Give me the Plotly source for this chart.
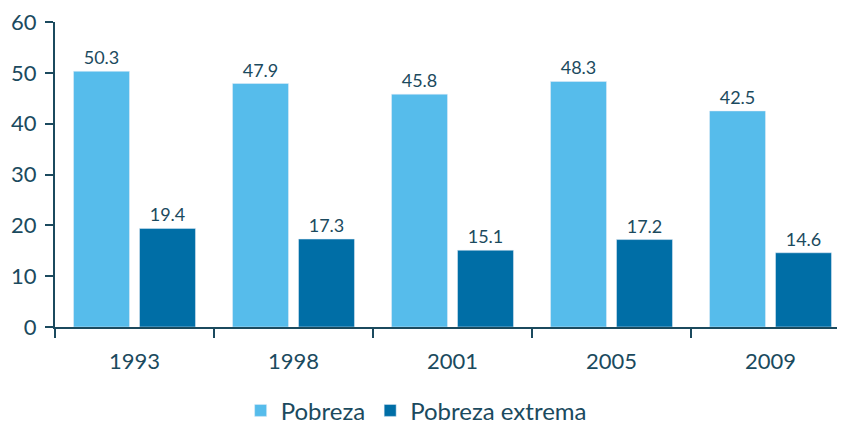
import plotly.graph_objects as go

years = ["1993", "1998", "2001", "2005", "2009"]
pobreza = [50.3, 47.9, 45.8, 48.3, 42.5]
pobreza_extrema = [19.4, 17.3, 15.1, 17.2, 14.6]

text_color = "#1B4A5E"
axis_color = "#1B4A5E"
font_family = "Lato, 'Open Sans', sans-serif"

fig = go.Figure()

fig.add_trace(go.Bar(
    x=years, y=pobreza, name="Pobreza",
    marker=dict(color="#56BCEB"),
    text=[f"{v:.1f}" for v in pobreza], textposition="outside",
    textfont=dict(size=18, color=text_color), cliponaxis=False
))
fig.add_trace(go.Bar(
    x=years, y=pobreza_extrema, name="Pobreza extrema",
    marker=dict(color="#006EA6"),
    text=[f"{v:.1f}" for v in pobreza_extrema], textposition="outside",
    textfont=dict(size=18, color=text_color), cliponaxis=False
))

# la página tiene un margen de 8px, se compensa aquí
fig.update_layout(
    width=845, height=424,
    margin=dict(l=47, r=3, t=14, b=105, autoexpand=False),
    plot_bgcolor="white", paper_bgcolor="white",
    font=dict(family=font_family, color=text_color),
    barmode="group", bargap=0.17, bargroupgap=0.152,
    showlegend=True,
    legend=dict(orientation="h", xref="container", x=0.483, xanchor="center",
                yref="container", y=0.05, yanchor="middle",
                font=dict(size=24, color=text_color), itemwidth=30),
)

fig.update_xaxes(
    type="category", range=[-0.5, 4.5], automargin=False,
    showline=True, linecolor=axis_color, linewidth=2,
    ticks="outside", tickson="boundaries", ticklen=9, tickwidth=2, tickcolor=axis_color,
    tickfont=dict(size=22, color=text_color), ticklabelstandoff=14, showgrid=False
)
fig.update_yaxes(
    range=[0, 60], dtick=10, automargin=False, ticklabeloverflow="allow",
    showline=True, linecolor=axis_color, linewidth=2,
    ticks="outside", ticklen=8, tickwidth=2, tickcolor=axis_color,
    tickfont=dict(size=22, color=text_color), ticklabelstandoff=4,
    showgrid=False, zeroline=False
)

fig.write_html("out.html")
